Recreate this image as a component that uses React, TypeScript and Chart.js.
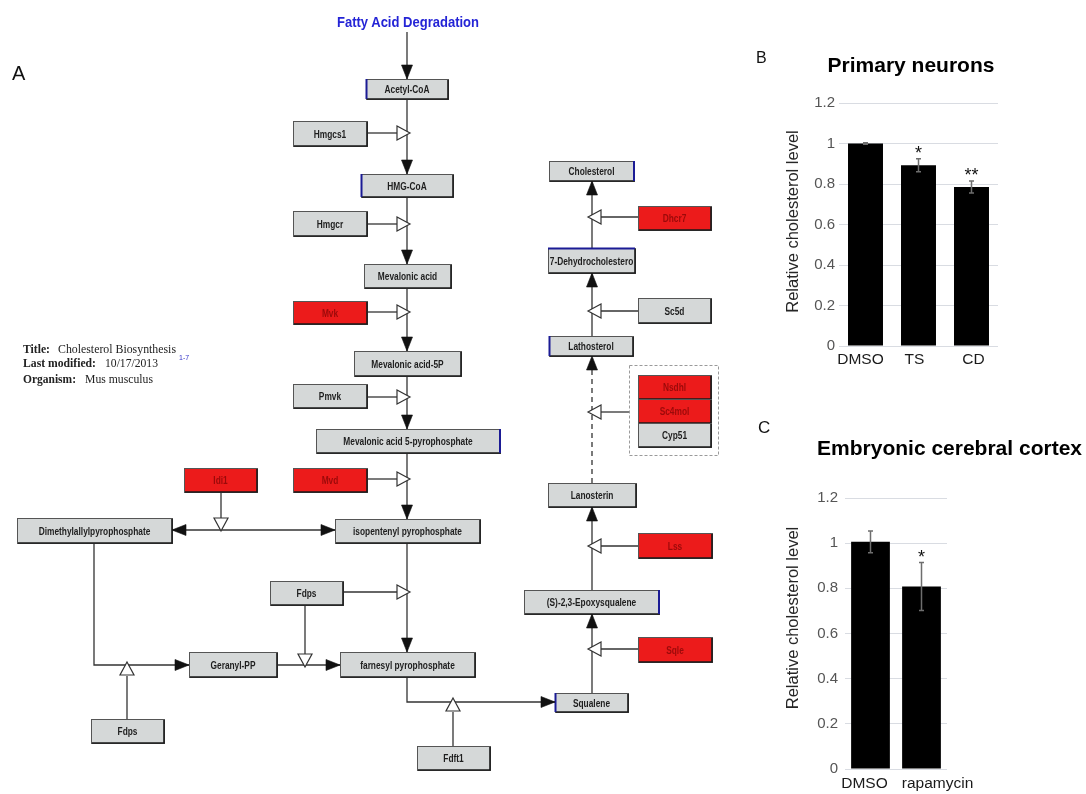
import React, { useEffect, useRef } from 'react';
import { Chart, registerables } from 'chart.js';

Chart.register(...registerables);

// ---------- Panel B: primary neurons ----------
const neuronCategories = ['DMSO', 'TS', 'CD'];
const neuronValues = [1.0, 0.893, 0.785];
const neuronErrors = [0.004, 0.032, 0.03];
const neuronStars = ['', '*', '**'];

// ---------- Panel C: embryonic cerebral cortex ----------
const cortexCategories = ['DMSO', 'rapamycin'];
const cortexValues = [1.006, 0.808];
const cortexErrors = [0.048, 0.106];
const cortexStars = ['', '*'];

// ---------- shared axis ----------
const yAxisMin = 0;
const yAxisMax = 1.2;
const yAxisStep = 0.2;
const yAxisTitle = 'Relative cholesterol level';

const FONT = '"Liberation Sans", Arial, Helvetica, sans-serif';
const NARROW = '"Liberation Sans Narrow", "Arial Narrow", "Liberation Sans", Arial, sans-serif';
const SERIF = '"Liberation Serif", "Times New Roman", serif';

const errorBarPlugin = {
  id: 'errorBars',
  afterDatasetsDraw(chart: any, _a: any, opts: any) {
    const { ctx } = chart;
    const meta = chart.getDatasetMeta(0);
    const yScale = chart.scales.y;
    const vals = chart.data.datasets[0].data as number[];
    const errs: number[] = opts.errors || [];
    const stars: string[] = opts.stars || [];
    meta.data.forEach((bar: any, i: number) => {
      const v = vals[i];
      const e = errs[i] || 0;
      const x = bar.x;
      const yHi = yScale.getPixelForValue(v + e);
      const yLo = yScale.getPixelForValue(v - e);
      const cap = 2.5;
      ctx.save();
      ctx.strokeStyle = '#6e6e6e';
      ctx.lineWidth = 1.5;
      ctx.beginPath();
      ctx.moveTo(x, yHi);
      ctx.lineTo(x, yLo);
      ctx.moveTo(x - cap, yHi);
      ctx.lineTo(x + cap, yHi);
      ctx.moveTo(x - cap, yLo);
      ctx.lineTo(x + cap, yLo);
      ctx.stroke();
      if (stars[i]) {
        ctx.fillStyle = '#111';
        ctx.font = `18px ${FONT}`;
        ctx.textAlign = 'center';
        ctx.textBaseline = 'alphabetic';
        ctx.fillText(stars[i], x, yHi);
      }
      ctx.restore();
    });
  },
};

const sideTitlePlugin = {
  id: 'sideTitle',
  afterDraw(chart: any, _a: any, opts: any) {
    if (!opts || !opts.text) return;
    const { ctx, chartArea } = chart;
    ctx.save();
    ctx.translate(chartArea.left - opts.gap, (chartArea.top + chartArea.bottom) / 2 + (opts.shift || 0));
    ctx.rotate(-Math.PI / 2);
    ctx.font = `16.5px ${FONT}`;
    ctx.fillStyle = '#262626';
    ctx.textAlign = 'center';
    ctx.textBaseline = 'middle';
    ctx.fillText(opts.text, 0, 0);
    ctx.restore();
  },
};

// category labels drawn under each category tick, with a small per-label nudge
const catLabelPlugin = {
  id: 'catLabels',
  afterDraw(chart: any, _a: any, opts: any) {
    const { ctx, chartArea } = chart;
    const xScale = chart.scales.x;
    const labels = chart.data.labels as string[];
    const shifts: number[] = opts.shifts || [];
    ctx.save();
    ctx.font = `15.5px ${FONT}`;
    ctx.fillStyle = '#1a1a1a';
    ctx.textAlign = 'center';
    ctx.textBaseline = 'middle';
    labels.forEach((lab, i) => {
      ctx.fillText(lab, xScale.getPixelForValue(i) + (shifts[i] || 0), chartArea.bottom + opts.gap);
    });
    ctx.restore();
  },
};

type PanelProps = {
  categories: string[];
  values: number[];
  errors: number[];
  stars: string[];
  title: string;
  titleAlign: 'center' | 'end';
  titlePadTop: number;
  titlePadBottom: number;
  left: number;
  top: number;
  width: number;
  height: number;
  yWidth: number;
  yTickPad: number;
  rightPad: number;
  xHeight: number;
  labelGap: number;
  labelShifts: number[];
  barPct: number;
  yTitleGap: number;
  yTitleShift: number;
};

function BarPanel(p: PanelProps) {
  const ref = useRef<HTMLCanvasElement>(null);
  useEffect(() => {
    const chart = new Chart(ref.current as HTMLCanvasElement, {
      type: 'bar',
      data: {
        labels: p.categories,
        datasets: [
          {
            data: p.values,
            backgroundColor: '#000000',
            borderWidth: 0,
            categoryPercentage: 1,
            barPercentage: p.barPct,
          },
        ],
      },
      options: {
        responsive: false,
        animation: false,
        devicePixelRatio: 1,
        layout: { padding: 0 },
        plugins: {
          legend: { display: false },
          tooltip: { enabled: false },
          title: {
            display: true,
            text: p.title,
            align: p.titleAlign,
            color: '#000',
            font: { family: FONT, size: 21, weight: 'bold' },
            padding: { top: p.titlePadTop, bottom: p.titlePadBottom },
          },
          errorBars: { errors: p.errors, stars: p.stars },
          sideTitle: { text: yAxisTitle, gap: p.yTitleGap, shift: p.yTitleShift },
          catLabels: { shifts: p.labelShifts, gap: p.labelGap },
        } as any,
        scales: {
          x: {
            grid: { display: false, drawTicks: false },
            border: { display: false },
            ticks: { display: false },
            afterFit: (s: any) => {
              s.height = p.xHeight;
            },
          },
          y: {
            min: yAxisMin,
            max: yAxisMax,
            grid: { color: '#d9dce2', lineWidth: 1, drawTicks: false },
            border: { display: false },
            ticks: {
              stepSize: yAxisStep,
              color: '#555555',
              font: { family: FONT, size: 15 },
              padding: p.yTickPad,
              callback: (v: any) => String(Math.round(Number(v) * 10) / 10),
            },
            afterFit: (s: any) => {
              s.width = p.yWidth;
            },
          },
          spacer: {
            type: 'linear',
            position: 'right',
            display: true,
            grid: { display: false, drawTicks: false },
            border: { display: false },
            ticks: { display: false },
            afterFit: (s: any) => {
              s.width = p.rightPad;
            },
          },
        } as any,
      },
      plugins: [errorBarPlugin, sideTitlePlugin, catLabelPlugin],
    });
    return () => chart.destroy();
  }, []);
  return (
    <canvas
      ref={ref}
      width={p.width}
      height={p.height}
      style={{ position: 'absolute', left: p.left, top: p.top, width: p.width, height: p.height }}
    />
  );
}

// ---------- Panel A: pathway diagram ----------
type PNode = { t: string; x: number; y: number; w: number; h: number; red?: boolean; edge?: 'l' | 'r' | 't' };
const pathwayNodes: PNode[] = [
  { t: 'Acetyl-CoA', x: 366, y: 79, w: 82, h: 20, edge: 'l' },
  { t: 'Hmgcs1', x: 293, y: 121, w: 74, h: 25 },
  { t: 'HMG-CoA', x: 361, y: 174, w: 92, h: 23, edge: 'l' },
  { t: 'Hmgcr', x: 293, y: 211, w: 74, h: 25 },
  { t: 'Mevalonic acid', x: 364, y: 264, w: 87, h: 24 },
  { t: 'Mvk', x: 293, y: 301, w: 74, h: 23, red: true },
  { t: 'Mevalonic acid-5P', x: 354, y: 351, w: 107, h: 25 },
  { t: 'Pmvk', x: 293, y: 384, w: 74, h: 24 },
  { t: 'Mevalonic acid 5-pyrophosphate', x: 316, y: 429, w: 184, h: 24, edge: 'r' },
  { t: 'Idi1', x: 184, y: 468, w: 73, h: 24, red: true },
  { t: 'Mvd', x: 293, y: 468, w: 74, h: 24, red: true },
  { t: 'Dimethylallylpyrophosphate', x: 17, y: 518, w: 155, h: 25 },
  { t: 'isopentenyl pyrophosphate', x: 335, y: 519, w: 145, h: 24 },
  { t: 'Fdps', x: 270, y: 581, w: 73, h: 24 },
  { t: 'Geranyl-PP', x: 189, y: 652, w: 88, h: 25 },
  { t: 'farnesyl pyrophosphate', x: 340, y: 652, w: 135, h: 25 },
  { t: 'Fdps', x: 91, y: 719, w: 73, h: 24 },
  { t: 'Fdft1', x: 417, y: 746, w: 73, h: 24 },
  { t: 'Squalene', x: 555, y: 693, w: 73, h: 19, edge: 'l' },
  { t: '(S)-2,3-Epoxysqualene', x: 524, y: 590, w: 135, h: 24, edge: 'r' },
  { t: 'Sqle', x: 638, y: 637, w: 74, h: 25, red: true },
  { t: 'Lss', x: 638, y: 533, w: 74, h: 25, red: true },
  { t: 'Lanosterin', x: 548, y: 483, w: 88, h: 24 },
  { t: 'Nsdhl', x: 638, y: 375, w: 73, h: 24, red: true },
  { t: 'Sc4mol', x: 638, y: 399, w: 73, h: 24, red: true },
  { t: 'Cyp51', x: 638, y: 423, w: 73, h: 24 },
  { t: 'Lathosterol', x: 549, y: 336, w: 84, h: 20, edge: 'l' },
  { t: 'Sc5d', x: 638, y: 298, w: 73, h: 25 },
  { t: '7-Dehydrocholestero', x: 548, y: 248, w: 87, h: 25, edge: 't' },
  { t: 'Dhcr7', x: 638, y: 206, w: 73, h: 24, red: true },
  { t: 'Cholesterol', x: 549, y: 161, w: 85, h: 20, edge: 'r' },
];

const pathwayLines: { pts: number[]; dash?: boolean }[] = [
  { pts: [407, 32, 407, 79] },
  { pts: [407, 99, 407, 174] },
  { pts: [407, 197, 407, 264] },
  { pts: [407, 288, 407, 351] },
  { pts: [407, 376, 407, 429] },
  { pts: [407, 453, 407, 519] },
  { pts: [407, 543, 407, 652] },
  { pts: [367, 133, 398, 133] },
  { pts: [367, 224, 398, 224] },
  { pts: [367, 312, 398, 312] },
  { pts: [367, 397, 398, 397] },
  { pts: [367, 479, 398, 479] },
  { pts: [343, 592, 398, 592] },
  { pts: [172, 530, 335, 530] },
  { pts: [221, 492, 221, 519] },
  { pts: [94, 543, 94, 665, 189, 665] },
  { pts: [127, 719, 127, 676] },
  { pts: [277, 665, 340, 665] },
  { pts: [305, 605, 305, 654] },
  { pts: [407, 677, 407, 702, 555, 702] },
  { pts: [453, 746, 453, 712] },
  { pts: [592, 693, 592, 614] },
  { pts: [592, 590, 592, 507] },
  { pts: [592, 483, 592, 356], dash: true },
  { pts: [592, 336, 592, 273] },
  { pts: [592, 248, 592, 181] },
  { pts: [638, 649, 601, 649] },
  { pts: [638, 546, 601, 546] },
  { pts: [629, 412, 601, 412] },
  { pts: [638, 311, 601, 311] },
  { pts: [638, 217, 601, 217] },
];

type Dir = 'up' | 'down' | 'left' | 'right';
const filledHeads: [number, number, Dir][] = [
  [407, 79, 'down'], [407, 174, 'down'], [407, 264, 'down'], [407, 351, 'down'],
  [407, 429, 'down'], [407, 519, 'down'], [407, 652, 'down'],
  [172, 530, 'left'], [335, 530, 'right'],
  [189, 665, 'right'], [340, 665, 'right'], [555, 702, 'right'],
  [592, 614, 'up'], [592, 507, 'up'], [592, 356, 'up'], [592, 273, 'up'], [592, 181, 'up'],
];
const openHeads: [number, number, Dir][] = [
  [410, 133, 'right'], [410, 224, 'right'], [410, 312, 'right'], [410, 397, 'right'],
  [410, 479, 'right'], [410, 592, 'right'],
  [221, 531, 'down'], [305, 667, 'down'],
  [127, 662, 'up'], [453, 698, 'up'],
  [588, 649, 'left'], [588, 546, 'left'], [588, 412, 'left'], [588, 311, 'left'], [588, 217, 'left'],
];

const DIRS: Record<Dir, [number, number]> = { up: [0, -1], down: [0, 1], left: [-1, 0], right: [1, 0] };
function triPoints(x: number, y: number, dir: Dir, len: number, half: number) {
  const [dx, dy] = DIRS[dir];
  const bx = x - dx * len;
  const by = y - dy * len;
  const px = -dy;
  const py = dx;
  return `${x},${y} ${bx + px * half},${by + py * half} ${bx - px * half},${by - py * half}`;
}

function NodeBox({ n }: { n: PNode }) {
  const fill = n.red ? '#ec1b1b' : '#d5d8d8';
  let edge: React.ReactNode = null;
  if (n.edge === 'l') edge = <line x1={n.x + 0.5} y1={n.y} x2={n.x + 0.5} y2={n.y + n.h} stroke="#1b1b95" strokeWidth={2} />;
  if (n.edge === 'r') edge = <line x1={n.x + n.w} y1={n.y} x2={n.x + n.w} y2={n.y + n.h} stroke="#1b1b95" strokeWidth={2} />;
  if (n.edge === 't') edge = <line x1={n.x} y1={n.y + 0.5} x2={n.x + n.w} y2={n.y + 0.5} stroke="#1b1b95" strokeWidth={2} />;
  const cx = n.x + n.w / 2;
  const cy = n.y + n.h / 2 + 0.5;
  return (
    <g>
      <rect x={n.x + 0.5} y={n.y + 0.5} width={n.w} height={n.h} fill={fill} stroke="#555" strokeWidth={1} />
      <path d={`M${n.x + n.w},${n.y + 1} V${n.y + n.h} H${n.x + 1}`} stroke="#1a1a1a" strokeWidth={1.6} fill="none" />
      {edge}
      <text
        x={0}
        y={0}
        transform={`translate(${cx},${cy}) scale(0.76,1)`}
        textAnchor="middle"
        dominantBaseline="central"
        fontFamily={NARROW}
        fontWeight="bold"
        fontSize={11}
        fill={n.red ? '#9c0a0a' : '#1e1e1e'}
      >
        {n.t}
      </text>
    </g>
  );
}

function Pathway() {
  return (
    <svg
      width={1086}
      height={794}
      style={{ position: 'absolute', left: 0, top: 0, pointerEvents: 'none' }}
    >
      <text x={12} y={80} fontFamily={FONT} fontSize={20} fill="#111">A</text>
      <text x={756} y={63} fontFamily={FONT} fontSize={16} fill="#111">B</text>
      <text x={758} y={433} fontFamily={FONT} fontSize={17} fill="#111">C</text>

      <text
        x={337}
        y={27}
        fontFamily={NARROW}
        fontWeight="bold"
        fontSize={15}
        fill="#2424d6"
        textLength={142}
        lengthAdjust="spacingAndGlyphs"
      >
        Fatty Acid Degradation
      </text>

      <g fontFamily={SERIF} fontSize={12.5} fill="#222">
        <text x={23} y={352.5} fontWeight="bold" textLength={27} lengthAdjust="spacingAndGlyphs">Title:</text>
        <text x={58} y={352.5} textLength={118} lengthAdjust="spacingAndGlyphs">Cholesterol Biosynthesis</text>
        <text x={23} y={366.5} fontWeight="bold" textLength={73} lengthAdjust="spacingAndGlyphs">Last modified:</text>
        <text x={105} y={366.5} textLength={53} lengthAdjust="spacingAndGlyphs">10/17/2013</text>
        <text x={23} y={382.5} fontWeight="bold" textLength={53} lengthAdjust="spacingAndGlyphs">Organism:</text>
        <text x={85} y={382.5} textLength={68} lengthAdjust="spacingAndGlyphs">Mus musculus</text>
      </g>
      <text x={179} y={360} fontFamily={FONT} fontSize={7} fill="#3434c8">1-7</text>

      <rect x={629.5} y={365.5} width={89} height={90} fill="none" stroke="#9a9a9a" strokeWidth={1} strokeDasharray="3 2" />

      {pathwayLines.map((l, i) => (
        <polyline
          key={'l' + i}
          points={l.pts.join(' ')}
          fill="none"
          stroke="#333"
          strokeWidth={1.3}
          strokeDasharray={l.dash ? '5 4' : undefined}
        />
      ))}

      {pathwayNodes.map((n, i) => (
        <NodeBox key={'n' + i} n={n} />
      ))}

      {filledHeads.map(([x, y, d], i) => (
        <polygon key={'f' + i} points={triPoints(x, y, d, 14, 5.5)} fill="#111" stroke="#111" strokeWidth={0.6} />
      ))}
      {openHeads.map(([x, y, d], i) => (
        <polygon key={'o' + i} points={triPoints(x, y, d, 13, 7)} fill="#fff" stroke="#333" strokeWidth={1.2} />
      ))}
    </svg>
  );
}

export default function App() {
  return (
    <div
      style={{
        position: 'absolute',
        left: 0,
        top: 0,
        width: 1086,
        height: 794,
        background: '#fff',
        overflow: 'hidden',
      }}
    >
      <BarPanel
        categories={neuronCategories}
        values={neuronValues}
        errors={neuronErrors}
        stars={neuronStars}
        title="Primary neurons"
        titleAlign="center"
        titlePadTop={13.4}
        titlePadBottom={24.4}
        left={740}
        top={40}
        width={342}
        height={335}
        yWidth={99}
        yTickPad={4}
        rightPad={84}
        xHeight={29}
        labelGap={14}
        labelShifts={[-5, -4, 2]}
        barPct={0.66}
        yTitleGap={46}
        yTitleShift={-3}
      />
      <BarPanel
        categories={cortexCategories}
        values={cortexValues}
        errors={cortexErrors}
        stars={cortexStars}
        title="Embryonic cerebral cortex"
        titleAlign="end"
        titlePadTop={57.1}
        titlePadBottom={35.7}
        left={740}
        top={380}
        width={342}
        height={414}
        yWidth={105}
        yTickPad={7}
        rightPad={135}
        xHeight={25}
        labelGap={14.5}
        labelShifts={[-6, 16]}
        barPct={0.76}
        yTitleGap={52}
        yTitleShift={-15.5}
      />
      <Pathway />
    </div>
  );
}
